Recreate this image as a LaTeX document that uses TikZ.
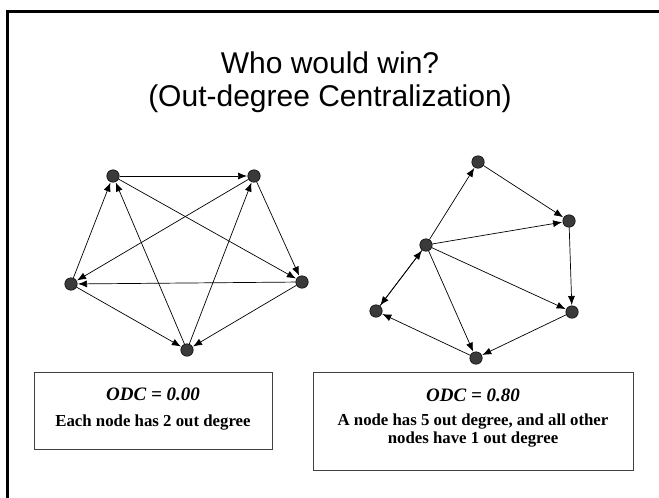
\documentclass[tikz,border=0pt]{standalone}
\usepackage{fontspec}
\setmainfont{Liberation Serif}
\newfontfamily\titlefont{Liberation Sans}
\usepackage{tikz}
\usetikzlibrary{positioning, arrows.meta, calc}

\definecolor{dotgray}{HTML}{3A3A3A}

\begin{document}
\begin{tikzpicture}[x=1pt, y=-1pt,
    dot/.style={circle, draw=black, line width=0.5pt, fill=dotgray, minimum size=12.5pt, inner sep=0pt},
    arr/.style={-{Latex[length=9pt, width=7pt]}, line width=0.7pt, shorten >=0.5pt},
    infobox/.style={rectangle, draw=black!75, line width=0.9pt, inner sep=0pt},
    odc/.style={font=\fontsize{19}{21}\selectfont\bfseries\itshape},
    note/.style={font=\fontsize{16.8}{18}\selectfont\bfseries, align=center}]
    \useasboundingbox (0,0) rectangle (659,498);
    % Frame and title
    \draw[line width=3pt] (7,498) -- (7,11) -- (659,11);
    \node[font=\titlefont\fontsize{30}{33}\selectfont, align=center] (title) at (330,82) {Who would win?\\(Out-degree Centralization)};

    % Left graph nodes
    \node[dot] (l1) at (113,176) {};
    \node[dot] (l2) at (254,176) {};
    \node[dot] (l3) at (302,282) {};
    \node[dot] (l4) at (187,350) {};
    \node[dot] (l5) at (71,284) {};

    % Left graph connections
    \draw[arr] (l1) -- (l2);
    \draw[arr] (l1) -- (l3);
    \draw[arr] (l2) -- (l3);
    \draw[arr] (l2) -- (l5);
    \draw[arr] (l3) -- (l5);
    \draw[arr] (l3) -- (l4);
    \draw[arr] (l4) -- (l1);
    \draw[arr] (l4) -- (l2);
    \draw[arr] (l5) -- (l1);
    \draw[arr] (l5) -- (l4);

    % Right graph nodes
    \node[dot] (rc) at (426,245) {};
    \node[dot] (rt) at (478,162) {};
    \node[dot] (rur) at (569,221) {};
    \node[dot] (rlr) at (572,312) {};
    \node[dot] (rb) at (476,358) {};
    \node[dot] (rl) at (376,311) {};

    % Right graph connections
    \draw[arr] (rc) -- (rt);
    \draw[arr] (rc) -- (rur);
    \draw[arr] (rc) -- (rlr);
    \draw[arr] (rc) -- (rb);
    \draw[arr] (rc) -- (rl);
    \draw[arr] (rl) -- (rc);
    \draw[arr] (rt) -- (rur);
    \draw[arr] (rur) -- (rlr);
    \draw[arr] (rlr) -- (rb);
    \draw[arr] (rb) -- (rl);

    % Info boxes
    \node[infobox, minimum width=238pt, minimum height=77pt] (lbox) at (153,410.5) {};
    \node[odc] (lodc) at (153,394) {ODC = 0.00};
    \node[note] (ltext) at (153,423) {Each node has 2 out degree};
    \node[infobox, minimum width=320pt, minimum height=98pt] (rbox) at (473,421) {};
    \node[odc] (rodc) at (473,395) {ODC = 0.80};
    \node[note] (rtext) at (473,431) {A node has 5 out degree, and all other\\nodes have 1 out degree};
\end{tikzpicture}
\end{document}
